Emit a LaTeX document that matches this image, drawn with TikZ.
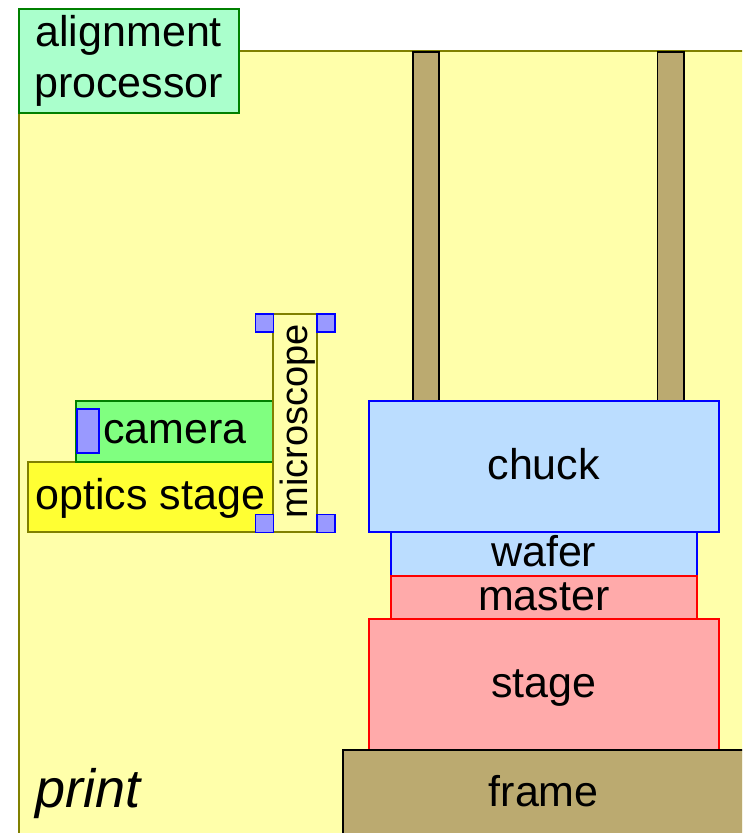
\documentclass[tikz,border=0pt]{standalone}
\usepackage{fontspec}
\setmainfont{Liberation Sans}
\definecolor{bgyellow}{HTML}{FFFFAA}
\definecolor{olivec}{HTML}{808000}
\definecolor{apfill}{HTML}{AAFFCC}
\definecolor{greenc}{HTML}{008000}
\definecolor{tanc}{HTML}{BBAA70}
\definecolor{lblue}{HTML}{BBDDFF}
\definecolor{lpink}{HTML}{FFAAAA}
\definecolor{camgreen}{HTML}{80FF80}
\definecolor{optyellow}{HTML}{FFFF33}
\definecolor{sensor}{HTML}{9999FF}
\begin{document}
\begin{tikzpicture}[x=1pt,y=-1pt,
  base/.style={line width=1.5pt, inner sep=0pt, anchor=north west,
    font=\fontsize{43}{50}\selectfont, text height=32pt, text depth=6.5pt},
  empty/.style={text height=0pt, text depth=0pt},
  bgbox/.style={base, empty, draw=olivec, fill=bgyellow},
  postbox/.style={base, empty, draw=black, fill=tanc},
  framebox/.style={base, draw=black, fill=tanc},
  bluebox/.style={base, draw=blue, fill=lblue},
  redbox/.style={base, draw=red, fill=lpink},
  apbox/.style={base, draw=greenc, fill=apfill, align=center, text height=, text depth=, font=\fontsize{43}{51}\selectfont},
  cambox/.style={base, empty, draw=greenc, fill=camgreen},
  optbox/.style={base, draw=olivec, fill=optyellow},
  micbox/.style={base, empty, draw=olivec, fill=bgyellow},
  sq/.style={base, empty, draw=blue, fill=sensor, minimum width=18, minimum height=18},
  lbl/.style={inner sep=0pt, font=\fontsize{43}{50}\selectfont}
]
\useasboundingbox (0,0) rectangle (742,833);
\clip (0,0) rectangle (742,833);
% background area
\node[bgbox, minimum width=780, minimum height=820] (area) at (18,50) {};
\node[lbl, anchor=base west, font=\fontsize{54}{60}\selectfont\itshape] (print) at (35,807) {print};
% posts
\node[postbox, minimum width=26, minimum height=350] (postL) at (412,51) {};
\node[postbox, minimum width=26.5, minimum height=350] (postR) at (656.5,51) {};
% stack
\node[bluebox, minimum width=350, minimum height=131] (chuck) at (368,400) {chuck};
\node[bluebox, minimum width=306, minimum height=44] (wafer) at (390,531) {wafer};
\node[redbox, minimum width=306, minimum height=43] (master) at (390,575) {master};
\node[redbox, minimum width=350, minimum height=131] (stage) at (368,618) {stage};
\node[framebox, minimum width=402, minimum height=88] (frame) at (342,749) {frame};
% alignment processor
\node[apbox, minimum width=220, minimum height=104] (ap) at (18,8) {alignment\\processor};
% optics
\node[optbox, minimum width=245, minimum height=70] (optics) at (27,461) {optics stage};
\node[cambox, minimum width=197, minimum height=61] (camera) at (75,400) {};
\node[lbl, anchor=base west] (camtext) at (103,443) {camera};
\node[base, empty, draw=blue, fill=sensor, minimum width=22, minimum height=44] (sensor) at (76,408) {};
\node[micbox, minimum width=44, minimum height=218] (micro) at (272,313) {};
\node[lbl, rotate=90, anchor=base, font=\fontsize{38}{42}\selectfont] (mictext) at (307,421.5) {microscope};
\node[sq] (sq1) at (254.5,313) {};
\node[sq] (sq2) at (316,313) {};
\node[sq] (sq3) at (254.5,513.5) {};
\node[sq] (sq4) at (316,513.5) {};
\end{tikzpicture}
\end{document}
